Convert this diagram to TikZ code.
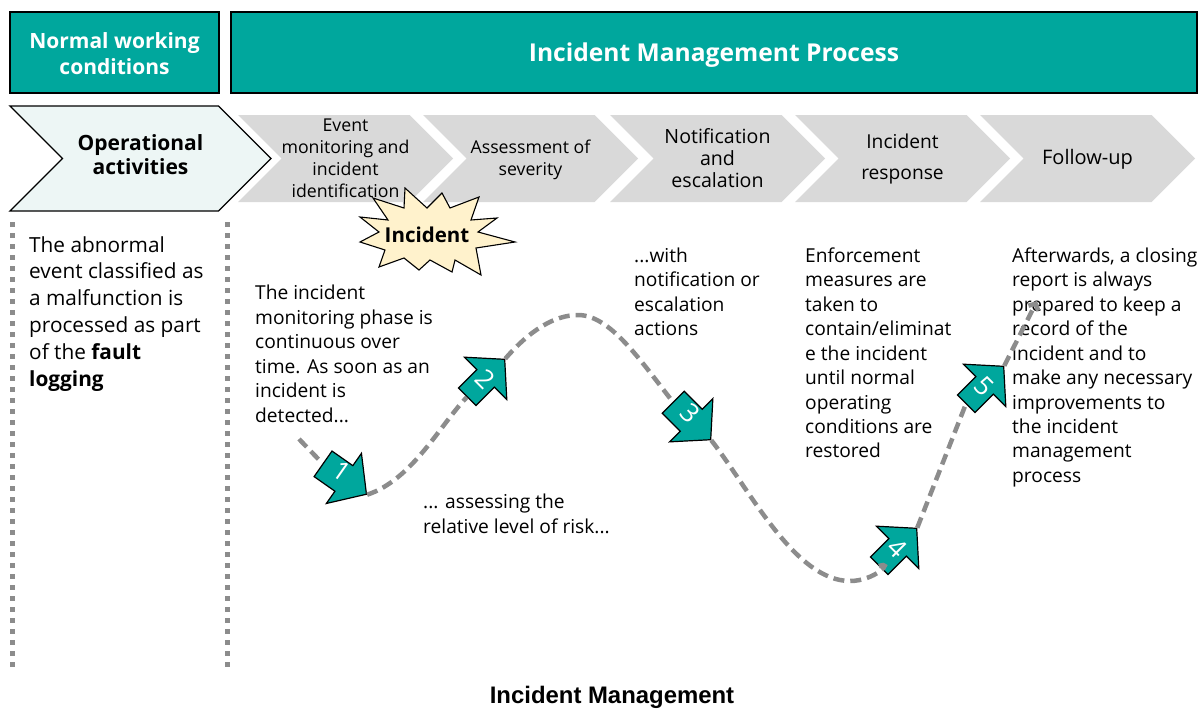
\documentclass[tikz,border=0pt]{standalone}
\usepackage{fontspec}
\setmainfont{Open Sans}
\newfontfamily\captionfont{Liberation Sans}
\usetikzlibrary{shapes.symbols}
\usetikzlibrary{shapes.arrows}
\usetikzlibrary{arrows.meta}
\definecolor{tealbox}{HTML}{00A79D}
\definecolor{paletint}{HTML}{EDF6F5}
\definecolor{stepgray}{HTML}{D9D9D9}
\definecolor{pathgray}{HTML}{8C8C8C}
\definecolor{burstfill}{HTML}{FFF2CC}
\tikzset{
  headbox/.style={rectangle, draw=black, line width=1.3pt, fill=tealbox, text=white, align=center, inner sep=0pt},
  stepshape/.style={signal, signal to=east, signal from=west, signal pointer angle=90, fill=stepgray, minimum width=215pt, minimum height=87pt, inner sep=0pt},
  steptext/.style={align=center, font=\fontsize{17.7}{22}\selectfont},
  bodytext/.style={align=left, anchor=north west, inner sep=0pt, font=\fontsize{19.2}{24.45}\selectfont},
  stagearrow/.style={single arrow, draw=black, line width=1.2pt, fill=tealbox, text=white, inner sep=0pt, minimum width=60pt, minimum height=53pt, single arrow head extend=15pt, single arrow tip angle=96, text height=20pt, text depth=10pt, text width=20pt, align=center, font=\fontsize{26}{26}\selectfont},
  flowline/.style={draw=pathgray, line width=4.5pt, dash pattern=on 11pt off 6pt},
  sideline/.style={draw=pathgray, line width=5pt, dash pattern=on 5pt off 6pt}
}
\begin{document}
\begin{tikzpicture}[x=1pt, y=-1pt]
        \useasboundingbox (0, 0) rectangle (1200, 709);

        % Header boxes
        \node[headbox, minimum width=209pt, minimum height=81pt, font=\fontsize{21}{26}\bfseries\selectfont] (normal) at (114.5, 52.5) {\rule{0pt}{18pt}Normal working\\conditions};
        \node[headbox, minimum width=966pt, minimum height=81pt, text height=24pt, text depth=5pt, font=\fontsize{24.6}{28}\bfseries\selectfont] (process) at (714, 52.5) {Incident Management Process};

        % Steps
        \node[stepshape] (s1) at (345.5, 158.5) {};
        \node[stepshape] (s2) at (530.5, 158.5) {};
        \node[stepshape] (s3) at (717.5, 158.5) {};
        \node[stepshape] (s4) at (902.5, 158.5) {};
        \node[stepshape] (s5) at (1087.5, 158.5) {};
        \node[stepshape, draw=black, line width=1.3pt, fill=paletint, minimum width=261pt, minimum height=105pt] (ops) at (140.5, 158.5) {};

        \node[steptext] (t1) at (s1) {Event\\monitoring and\\incident\\identification};
        \node[steptext] (t2) at ([yshift=-1pt]s2) {Assessment of\\severity};
        \node[steptext, font=\fontsize{19.6}{22}\selectfont] (t3) at (s3) {Notification\\and\\escalation};
        \node[steptext, font=\fontsize{19.2}{31}\selectfont] (t4) at ([yshift=-1pt]s4) {Incident\\response};
        \node[steptext, font=\fontsize{20}{22}\selectfont] (t5) at ([yshift=-1pt]s5) {Follow-up};
        \node[steptext, font=\fontsize{21}{23.5}\bfseries\selectfont] (t0) at ([yshift=4pt]ops) {Operational\\activities};

        % Incident
        \draw[draw=black, line width=1.1pt, fill=burstfill] (405,188) -- (427,208) -- (442,193) -- (450,208) -- (479,197) -- (471,220) -- (497,218) -- (478,232) -- (515,242) -- (476,248) -- (481,275) -- (455,260) -- (452,272) -- (430,260) -- (419,270) -- (404,258) -- (379,267) -- (385,250) -- (360,242) -- (379,232) -- (360,217) -- (388,220) -- (373,198) -- (404,208) -- cycle;
        \node[font=\fontsize{20.5}{22}\bfseries\selectfont, inner sep=0pt] (incident) at (427, 235) {Incident};

        % Side lines
        \coordinate (l1) at (12, 222);
        \coordinate (l2) at (12, 668);
        \coordinate (r1) at (227, 222);
        \coordinate (r2) at (227, 668);
        \draw[sideline] (l1) -- (l2);
        \draw[sideline] (r1) -- (r2);

        % Texts
        \node[bodytext, font=\fontsize{20.8}{26.8}\selectfont] (fault) at (29, 236) {The abnormal\\event classified as\\a malfunction is\\processed as part\\of the \textbf{fault}\\\textbf{logging}};
        \node[bodytext] (d1) at (255, 285) {The incident\\monitoring phase is\\continuous over\\time. As soon as an\\incident is\\detected...};
        \node[bodytext] (d2) at (423, 494) {... assessing the\\relative level of risk...};
        \node[bodytext] (d3) at (634, 247.5) {...with\\notification or\\escalation\\actions};
        \node[bodytext] (d4) at (805, 247.5) {Enforcement\\measures are\\taken to\\contain/eliminat\\e the incident\\until normal\\operating\\conditions are\\restored};
        \node[bodytext] (d5) at (1012, 247.5) {Afterwards, a closing\\report is always\\prepared to keep a\\record of the\\incident and to\\make any necessary\\improvements to\\the incident\\management\\process};

        % Path arrows
        \coordinate (begin) at (299, 439);
        \coordinate (finish) at (1037, 301);
        \node[stagearrow, rotate=-35] (a1) at (339, 475) {1};
        \node[stagearrow, shape border rotate=90, rotate=-45] (a2) at (482, 382) {2};
        \node[stagearrow, rotate=-45] (a3) at (687, 416) {3};
        \node[stagearrow, shape border rotate=90, rotate=-45] (a4) at (894, 551) {4};
        \node[stagearrow, shape border rotate=90, rotate=-45] (a5) at (981, 389) {5};

        % Lines
        \draw[flowline] (begin) -- (a1.tail);
        \draw[flowline] (a1.tip) .. controls (412, 480) and (440, 425) .. (a2.tail);
        \draw[flowline] (a2.tip) .. controls (530, 330) and (555, 315) .. (578, 315) .. controls (610, 315) and (640, 360) .. (a3.tail);
        \draw[flowline] (a3.tip) .. controls (750, 490) and (795, 581) .. (850, 581) .. controls (875, 581) and (895, 560) .. (a4.tail);
        \draw[flowline] (a4.tip) -- (a5.tail);
        \draw[flowline, -{Straight Barb[length=5pt, width=11pt]}] (a5.tip) -- (finish);

        % Caption
        \node[font=\captionfont\fontsize{23.9}{26}\bfseries\selectfont, inner sep=0pt] (caption) at (612, 697) {Incident Management};
    \end{tikzpicture}
\end{document}
